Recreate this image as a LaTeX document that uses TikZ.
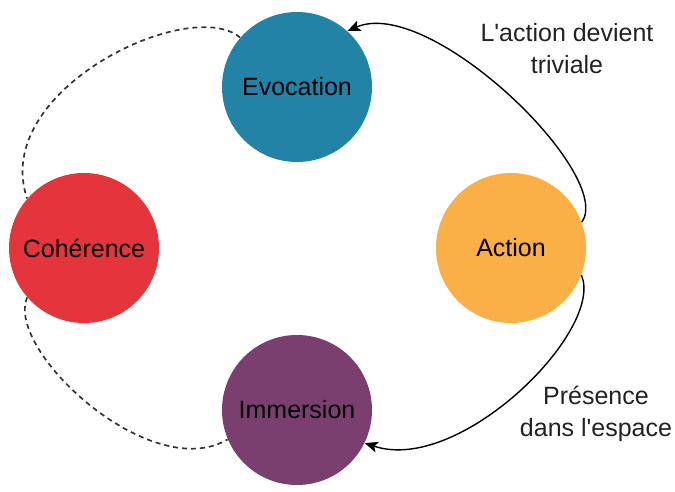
\documentclass[tikz,border=0pt]{standalone}
\usepackage{fontspec}
\setmainfont{Liberation Sans}
\usetikzlibrary{arrows.meta}
\definecolor{cEvo}{HTML}{2283A6}
\definecolor{cAct}{HTML}{FBAF47}
\definecolor{cCoh}{HTML}{E3353B}
\definecolor{cImm}{HTML}{7B3F6F}
\definecolor{cTxt}{HTML}{222222}
\tikzset{
  bubble/.style={circle, minimum size=75pt, inner sep=0pt, text=black, font=\fontsize{12.5}{15}\selectfont},
  lab/.style={align=center, text=cTxt, font=\fontsize{12.5}{16}\selectfont},
  flow/.style={line width=0.7pt, black, -{Stealth[length=6.5pt,width=5.5pt,inset=1.5pt]}},
  loose/.style={line width=0.85pt, black!80, dash pattern=on 2.5pt off 2pt}
}
\begin{document}
\begin{tikzpicture}[x=0.5pt, y=-0.5pt]
\useasboundingbox (0,0) rectangle (675,492);
\node[bubble, fill=cEvo] (evo) at (297,87) {Evocation};
\node[bubble, fill=cAct] (act) at (511,248) {Action};
\node[bubble, fill=cCoh] (coh) at (84,248) {Cohérence};
\node[bubble, fill=cImm] (imm) at (297,410) {Immersion};
\draw[flow] (act.20) .. controls (615,175) and (430,-5) .. (evo.48);
\draw[flow] (act.-21) .. controls (605,330) and (460,475) .. (imm.-26);
\draw[loose] (evo.139) .. controls (190,-5) and (-10,90) .. (coh.139);
\draw[loose] (coh.-139) .. controls (5,350) and (150,485) .. (imm.-157);
\node[lab] (l1) at (567,49) {L\textquotesingle action devient\\triviale};
\node[lab] (l2) at (596,414) {Présence\\dans l\textquotesingle espace};
\end{tikzpicture}
\end{document}
